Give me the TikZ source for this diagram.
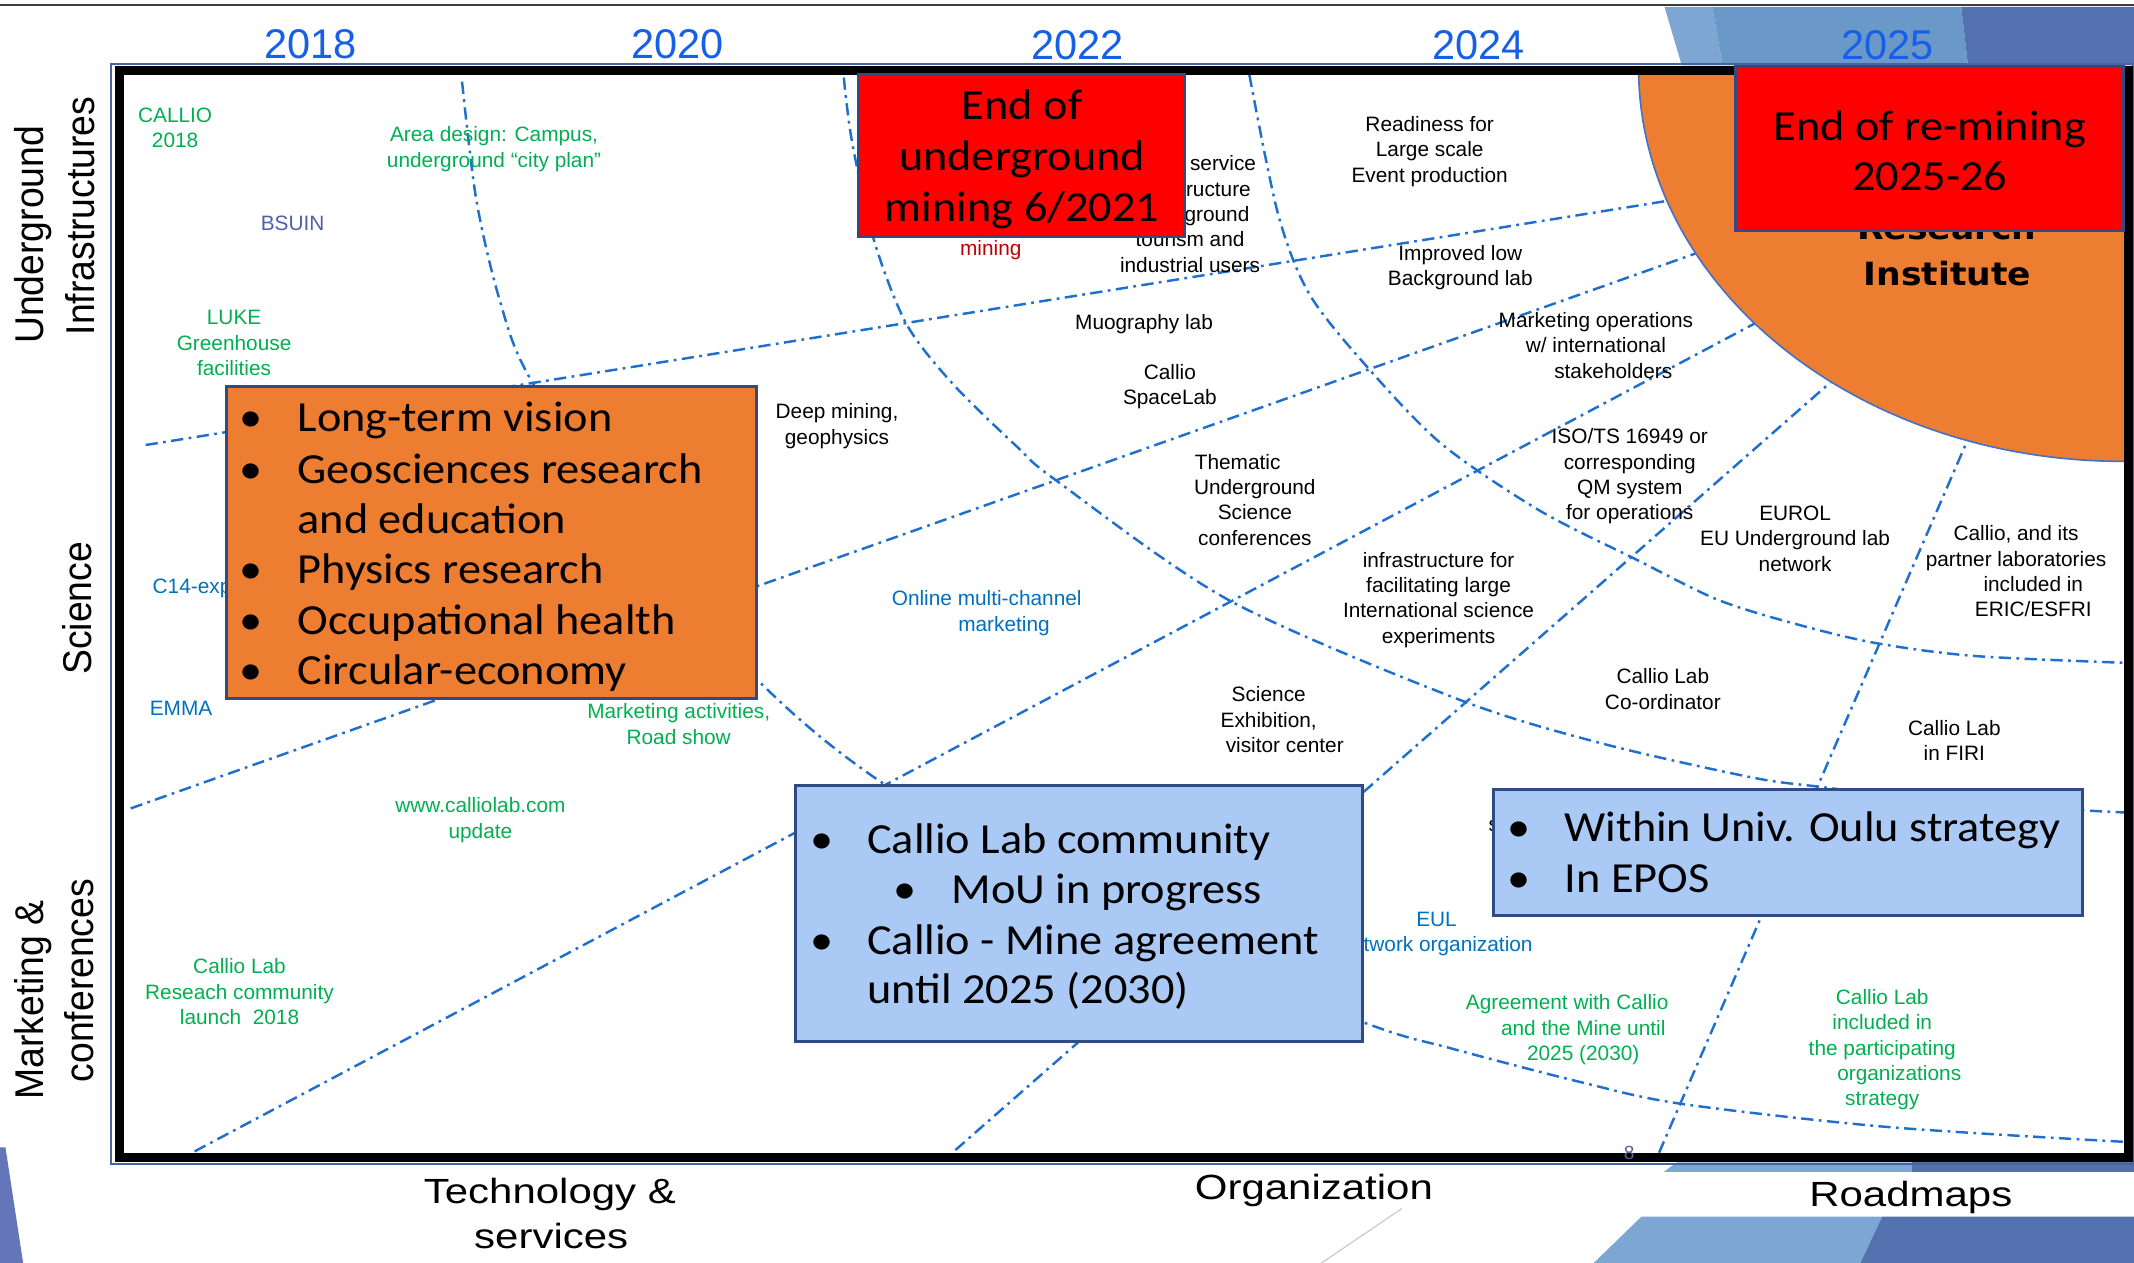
\documentclass[tikz,border=0pt]{standalone}
\usepackage{fontspec}
\setmainfont{Liberation Sans}
\newfontfamily\boxfont[FakeStretch=1.08]{Carlito}
\newfontfamily\axisfont[FakeStretch=1.2]{Liberation Sans}
\newfontfamily\sidefont[FakeStretch=0.93]{Liberation Sans}
\newfontfamily\instfont[FakeStretch=1.08]{DejaVu Sans}
\definecolor{ddblue}{RGB}{31,111,205}
\definecolor{tgreen}{RGB}{0,176,80}
\definecolor{tblue}{RGB}{0,112,192}
\definecolor{tred}{RGB}{192,0,0}
\definecolor{bsuin}{RGB}{79,98,168}
\definecolor{yearblue}{RGB}{21,96,230}
\definecolor{orangeF}{RGB}{237,125,49}
\definecolor{boxblue}{RGB}{171,201,245}
\definecolor{boxborder}{RGB}{47,75,130}
\definecolor{frameblue}{RGB}{70,100,160}
\definecolor{arcblue}{RGB}{68,114,196}
\definecolor{decoLight}{RGB}{125,166,210}
\definecolor{decoMid}{RGB}{106,152,200}
\definecolor{decoDark}{RGB}{84,113,175}
\definecolor{decoSide}{RGB}{100,118,184}
\definecolor{topline}{RGB}{60,60,60}
\definecolor{pagenum}{RGB}{80,100,150}
\tikzset{
  dd/.style={draw=ddblue, line width=1.8pt, dash pattern=on 9pt off 4pt on 2pt off 4pt},
  lbl/.style={font=\fontsize{15.3}{18.6}\selectfont, align=center, inner sep=0pt},
  gl/.style={lbl, text=tgreen},
  bl/.style={lbl, text=tblue},
  kl/.style={lbl, text=black},
  yr/.style={font=\fontsize{30.5}{36}\selectfont, text=yearblue, anchor=base, inner sep=0pt},
  axl/.style={font=\axisfont\fontsize{25.7}{33}\selectfont, anchor=base, inner sep=0pt},
  side/.style={font=\sidefont\fontsize{29.5}{35}\selectfont, anchor=base, rotate=90, inner sep=0pt},
  bx/.style={font=\boxfont\fontsize{31.5}{37}\selectfont, inner sep=0pt},
  inst/.style={font=\instfont\bfseries\fontsize{23.5}{28}\selectfont, inner sep=0pt, anchor=base},
  boxbase/.style={draw=boxborder, line width=2.2pt, inner sep=0pt, outer sep=0pt},
  redbox/.style={boxbase, fill=red},
  ornbox/.style={boxbase, fill=orangeF},
  bluebox/.style={boxbase, fill=boxblue},
}
\begin{document}
\begin{tikzpicture}[x=1pt,y=-1pt]
\useasboundingbox (0,0) rectangle (1568,928);
\fill[white] (0,0) rectangle (1568,928);

% decorations
\fill[decoLight] (1223,5) -- (1258,5) -- (1265.7,48) -- (1235.7,48) -- cycle;
\fill[decoMid] (1258,5) -- (1441,5) -- (1446,48) -- (1265.7,48) -- cycle;
\fill[decoDark] (1441,5) -- (1568,5) -- (1568,48) -- (1446,48) -- cycle;
\fill[decoLight] (1232,854) -- (1405,854) -- (1405,861) -- (1222.6,861) -- cycle;
\fill[decoDark] (1405,854) -- (1568,854) -- (1568,861) -- (1405,861) -- cycle;
\fill[decoLight] (1206,894) -- (1383,894) -- (1367,928) -- (1171,928) -- cycle;
\fill[decoDark] (1383,894) -- (1568,894) -- (1568,928) -- (1367,928) -- cycle;
\fill[decoSide] (0,843) -- (4,843) -- (17,928) -- (0,928) -- cycle;
\draw[gray!45, line width=0.8pt] (1030,888) -- (971,928);
\draw[topline, line width=1.6pt] (0,3.7) -- (1568,3.7);

% dash-dot arcs
\draw[dd] plot[smooth] coordinates {(339.5,60) (350,147) (367,220) (390,279) (470,400) (557,500) (645,573) (820,680) (1004,752) (1065,770) (1161,795) (1235,811) (1386,828) (1561,839)};
\draw[dd] plot[smooth] coordinates {(620,57) (626,104) (642,176) (666,238) (700,282) (747,328) (776,353) (903,441) (1072,514) (1176,546) (1286,571) (1336,578) (1440,590) (1561,597)};
\draw[dd] plot[smooth] coordinates {(918,55) (939,157) (962,216) (1004,269) (1059,326) (1131,375) (1202,411) (1263,441) (1325,460) (1381,473) (1451,482) (1561,487)};
% dash-dot rising lines
\draw[dd] (107,327) -- (1235,146);
\draw[dd] (96,594) -- (1255,183);
\draw[dd] (143,846) -- (1300,232);
\draw[dd] (702,845) -- (1362,266);
\draw[dd] (1219,847) -- (1448,318);

% orange quarter ellipse
\begin{scope}
\clip (90.75,54.75) rectangle (1560.75,847.25);
\fill[orangeF] (1560,50) ellipse [x radius=356pt, y radius=289pt];
\draw[arcblue, line width=1.2pt] (1560,50) ellipse [x radius=356pt, y radius=289pt];
\end{scope}
\node[inst] (res) at (1430.5,176) {Research};
\node[inst] (insti) at (1431,210) {Institute};

% frame
\draw[frameblue, line width=1.5pt] (81.5,47.3) rectangle (1567,855);
\draw[black, line width=6.5pt] (87.5,51.5) rectangle (1564,850.5);

% texts partly hidden behind boxes
\node[bl, anchor=base west] (c14) at (112,436) {C14-exp};
\node[kl] (serv) at (874.4,157.3) {\hspace*{48.5pt}service\\\hspace*{41.7pt}ructure\\\hspace*{39.5pt}ground\\tourism and\\industrial users};
\node[bl] (eul) at (1055.5,686.5) {EUL\\network organization};
\node[kl, anchor=base west] (sfrag) at (1093.5,611) {s};

% boxes
\node[redbox, minimum width=239pt, minimum height=119pt] (red1) at (750.5,114.5) {};
\node[redbox, minimum width=285pt, minimum height=120pt] (red2) at (1418,109) {};
\node[ornbox, minimum width=389.4pt, minimum height=229pt] (orn) at (361.3,398.5) {};
\node[bluebox, minimum width=416.5pt, minimum height=188.6pt] (blue1) at (792.75,671.3) {};
\node[bluebox, minimum width=432.5pt, minimum height=93pt] (blue2) at (1313.75,626.5) {};

% red box texts
\node[bx, anchor=base] (r1a) at (751,88) {End of};
\node[bx, anchor=base] (r1b) at (751,125) {underground};
\node[bx, anchor=base] (r1c) at (751,163) {mining 6/2021};
\node[bx, anchor=base] (r2a) at (1418,103) {End of re-mining};
\node[bx, anchor=base] (r2b) at (1418,140) {2025-26};

% orange box texts
\node[bx, anchor=base] (ob1) at (184.3,317) {•};
\node[bx, anchor=base west] (ot1) at (218.5,317) {Long-term vision};
\node[bx, anchor=base] (ob2) at (184.3,355) {•};
\node[bx, anchor=base west] (ot2) at (218.5,355) {Geosciences research};
\node[bx, anchor=base west] (ot2b) at (218.5,392) {and education};
\node[bx, anchor=base] (ob3) at (184.3,429) {•};
\node[bx, anchor=base west] (ot3) at (218.5,429) {Physics research};
\node[bx, anchor=base] (ob4) at (184.3,466) {•};
\node[bx, anchor=base west] (ot4) at (218.5,466) {Occupational health};
\node[bx, anchor=base] (ob5) at (184.3,503) {•};
\node[bx, anchor=base west] (ot5) at (218.5,503) {Circular-economy};

% blue box 1 texts
\node[bx, anchor=base] (b1b1) at (604,627) {•};
\node[bx, anchor=base west] (b1t1) at (637,627) {Callio Lab community};
\node[bx, anchor=base] (b1b2) at (665,664) {•};
\node[bx, anchor=base west] (b1t2) at (699,664) {MoU in progress};
\node[bx, anchor=base] (b1b3) at (604,701) {•};
\node[bx, anchor=base west] (b1t3) at (637,701) {Callio - Mine agreement};
\node[bx, anchor=base west] (b1t4) at (637,737) {until 2025 (2030)};

% blue box 2 texts
\node[bx, anchor=base] (b2b1) at (1116,618.5) {•};
\node[bx, anchor=base west] (b2t1) at (1149.5,618.5) {Within Univ. Oulu strategy};
\node[bx, anchor=base] (b2b2) at (1116,656) {•};
\node[bx, anchor=base west] (b2t2) at (1149.5,656) {In EPOS};

% small labels
\node[gl] (callio) at (128.7,93.7) {CALLIO\\2018};
\node[gl] (area) at (363,109.5) {Area design: Campus,\\underground “city plan”};
\node[lbl, text=bsuin] (bsuin) at (215,164) {BSUIN};
\node[gl] (luke) at (172,252) {LUKE\\Greenhouse\\facilities};
\node[bl] (emma) at (133,520.7) {EMMA};
\node[gl] (mkact) at (498.7,532) {Marketing activities,\\Road show};
\node[gl] (www) at (353,602.5) {www.calliolab.com\\update};
\node[gl] (rescomm) at (176,728.6) {Callio Lab\\Reseach community\\launch\ \ 2018};
\node[kl] (deep) at (615,313) {Deep mining,\\geophysics};
\node[bl] (online) at (725,450.5) {Online multi-channel\\\hspace*{25.4pt}marketing};
\node[lbl, text=tred] (mining) at (728,184) {mining};
\node[kl] (muo) at (840.6,238) {Muography lab};
\node[kl] (space) at (859.6,284) {Callio\\SpaceLab};
\node[kl] (ready) at (1050.5,111.3) {Readiness for\\Large scale\\Event production};
\node[kl] (impr) at (1073,196.5) {Improved low\\Background lab};
\node[kl] (mkop) at (1172.6,253.7) {Marketing operations\\w/ international\\\hspace*{25.6pt}stakeholders};
\node[kl] (iso) at (1197.5,350) {ISO/TS 16949 or\\corresponding\\QM system\\for operations};
\node[kl] (them) at (922,367.3) {Thematic\hspace*{25.2pt}\\Underground\\Science\\conferences};
\node[kl] (infra) at (1057,440.6) {infrastructure for\\facilitating large\\International science\\experiments};
\node[kl] (exhib) at (932.2,528.8) {Science\\Exhibition,\\\hspace*{23.6pt}visitor center};
\node[kl] (coord) at (1221.8,506.2) {Callio Lab\\Co-ordinator};
\node[kl] (eurol) at (1319,395.9) {EUROL\\EU Underground lab\\network};
\node[kl] (eric) at (1481.3,419.8) {Callio, and its\\partner laboratories\\\hspace*{25.4pt}included in\\\hspace*{25.4pt}ERIC/ESFRI};
\node[kl] (firi) at (1436,544.3) {Callio Lab\\in FIRI};
\node[gl] (agree) at (1163.3,756.7) {Agreement with Callio\hspace*{23.6pt}\\and the Mine until\\2025 (2030)};
\node[gl] (partic) at (1383,771.4) {Callio Lab\\included in\\the participating\\\hspace*{25pt}organizations\\strategy};

% years
\node[yr] (y18) at (228,43) {2018};
\node[yr] (y20) at (497.7,43) {2020};
\node[yr] (y22) at (791.8,44) {2022};
\node[yr] (y24) at (1086.4,44) {2024};
\node[yr] (y25) at (1387,44) {2025};

% axis labels
\node[side] (ax1) at (31.6,172.5) {Underground};
\node[side] (ax2) at (69.6,158.7) {Infrastructures};
\node[side] (ax3) at (67.5,447) {Science};
\node[side] (ax4) at (31.6,734.7) {Marketing \&};
\node[side] (ax5) at (69,720.5) {conferences};
\node[axl] (bx1) at (404,884) {Technology \&};
\node[axl] (bx2) at (405,917) {services};
\node[axl] (bx3) at (965.4,881) {Organization};
\node[axl] (bx4) at (1404,886.6) {Roadmaps};
\node[font=\fontsize{14}{16}\selectfont, text=pagenum, anchor=base, inner sep=0pt] (pg) at (1197,852) {8};
\end{tikzpicture}
\end{document}
